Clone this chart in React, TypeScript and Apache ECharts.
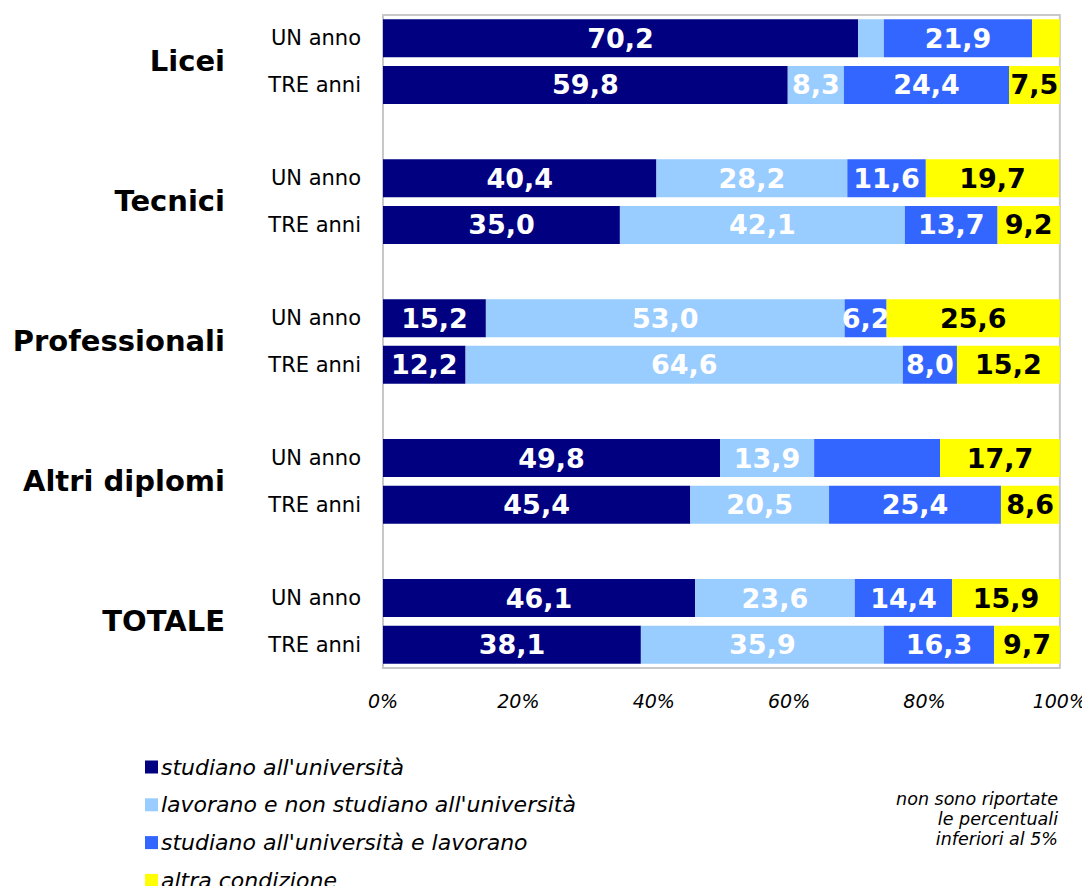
import React, { useEffect, useRef } from "react";
import * as echarts from "echarts";

const groups = ["Licei", "Tecnici", "Professionali", "Altri diplomi", "TOTALE"];
const periods = ["UN anno", "TRE anni"];
const seriesNames = [
  "studiano all'università",
  "lavorano e non studiano all'università",
  "studiano all'università e lavorano",
  "altra condizione",
];
const colors = ["#000080", "#99CCFF", "#3366FF", "#FFFF00"];
const labelColors = ["#ffffff", "#ffffff", "#ffffff", "#000000"];

// rows: Licei UN, Licei TRE, Tecnici UN, Tecnici TRE, Prof UN, Prof TRE, Altri UN, Altri TRE, Tot UN, Tot TRE
const studiano = [70.2, 59.8, 40.4, 35.0, 15.2, 12.2, 49.8, 45.4, 46.1, 38.1];
const lavorano = [3.8, 8.3, 28.2, 42.1, 53.0, 64.6, 13.9, 20.5, 23.6, 35.9];
const studianoLavorano = [21.9, 24.4, 11.6, 13.7, 6.2, 8.0, 18.6, 25.4, 14.4, 16.3];
const altra = [4.1, 7.5, 19.7, 9.2, 25.6, 15.2, 17.7, 8.6, 15.9, 9.7];
const seriesValues = [studiano, lavorano, studianoLavorano, altra];
// labels not shown in the original (series index, row index)
const hiddenLabels = [[2, 6]];

const xTicks = [0, 20, 40, 60, 80, 100];
const noteLines = ["non sono riportate", "le percentuali", "inferiori al 5%"];

const FONT = "'DejaVu Sans', Verdana, sans-serif";

export default function App() {
  const ref = useRef<HTMLDivElement>(null);
  useEffect(() => {
    if (!ref.current) return;
    const chart = echarts.init(ref.current, undefined, { renderer: "svg" });

    const cats: string[] = [];
    const slotOfRow: number[] = [];
    groups.forEach((g, gi) => {
      periods.forEach((p) => {
        slotOfRow.push(cats.length);
        cats.push(g + "|" + p);
      });
      if (gi < groups.length - 1) cats.push("gap" + gi);
    });

    const series = seriesValues.map((vals, si) => {
      const data: any[] = cats.map(() => null);
      vals.forEach((v, ri) => {
        const hidden = hiddenLabels.some((h) => h[0] === si && h[1] === ri);
        data[slotOfRow[ri]] = hidden ? { value: v, label: { show: false } } : v;
      });
      return {
        name: seriesNames[si],
        type: "bar",
        stack: "total",
        barWidth: 38,
        data,
        itemStyle: { color: colors[si] },
        label: {
          show: true,
          position: "inside",
          color: labelColors[si],
          fontFamily: FONT,
          fontWeight: "bold",
          fontSize: 27,
          formatter: (p: any) =>
            p.value == null || p.value < 5 ? "" : Number(p.value).toFixed(1).replace(".", ","),
        },
      };
    });

    const legends = seriesNames.map((name, i) => ({
      orient: "vertical",
      left: 145,
      top: 756 + i * 37.8,
      padding: 0,
      icon: "rect",
      itemWidth: 13,
      itemHeight: 13,
      data: [name],
      selectedMode: false,
      textStyle: {
        fontFamily: FONT,
        fontStyle: "italic",
        fontSize: 22,
        color: "#000",
        padding: [0, 0, 0, -2],
      },
    }));

    const option: any = {
      animation: false,
      grid: {
        left: 383,
        right: 30,
        top: 15,
        bottom: 226,
        show: true,
        borderColor: "#c8c8c8",
        borderWidth: 2,
        containLabel: false,
      },
      xAxis: {
        type: "value",
        min: 0,
        max: 100,
        interval: 20,
        axisLine: { show: false },
        axisTick: { show: false },
        splitLine: { show: false },
        axisLabel: {
          formatter: (v: number) => (xTicks.includes(v) ? v + "%" : ""),
          fontFamily: FONT,
          fontStyle: "italic",
          fontSize: 19,
          color: "#000",
          margin: 23,
        },
      },
      yAxis: {
        type: "category",
        inverse: true,
        data: cats,
        axisLine: { show: false },
        axisTick: { show: false },
        axisLabel: {
          formatter: (v: string) => (v.startsWith("gap") ? "" : v.split("|")[1]),
          fontFamily: FONT,
          fontSize: 21,
          color: "#000",
          margin: 22,
        },
      },
      legend: legends,
      series,
    };
    chart.setOption(option);

    const graphics: any[] = [];
    groups.forEach((g, gi) => {
      const y1 = chart.convertToPixel({ yAxisIndex: 0 }, cats[slotOfRow[gi * 2]]) as number;
      const y2 = chart.convertToPixel({ yAxisIndex: 0 }, cats[slotOfRow[gi * 2 + 1]]) as number;
      graphics.push({
        type: "text",
        right: 1090 - 225,
        top: (y1 + y2) / 2 - 15,
        style: {
          text: g,
          font: "bold 29px " + FONT,
          fill: "#000",
          align: "right",
        },
      });
    });
    noteLines.forEach((t, i) => {
      graphics.push({
        type: "text",
        right: 32,
        top: 790 + i * 20,
        style: {
          text: t,
          font: "italic 17.5px " + FONT,
          fill: "#000",
          align: "right",
        },
      });
    });
    chart.setOption({ graphic: graphics });

    return () => chart.dispose();
  }, []);
  return <div ref={ref} style={{ width: 1090, height: 894, margin: -8 }} />;
}
